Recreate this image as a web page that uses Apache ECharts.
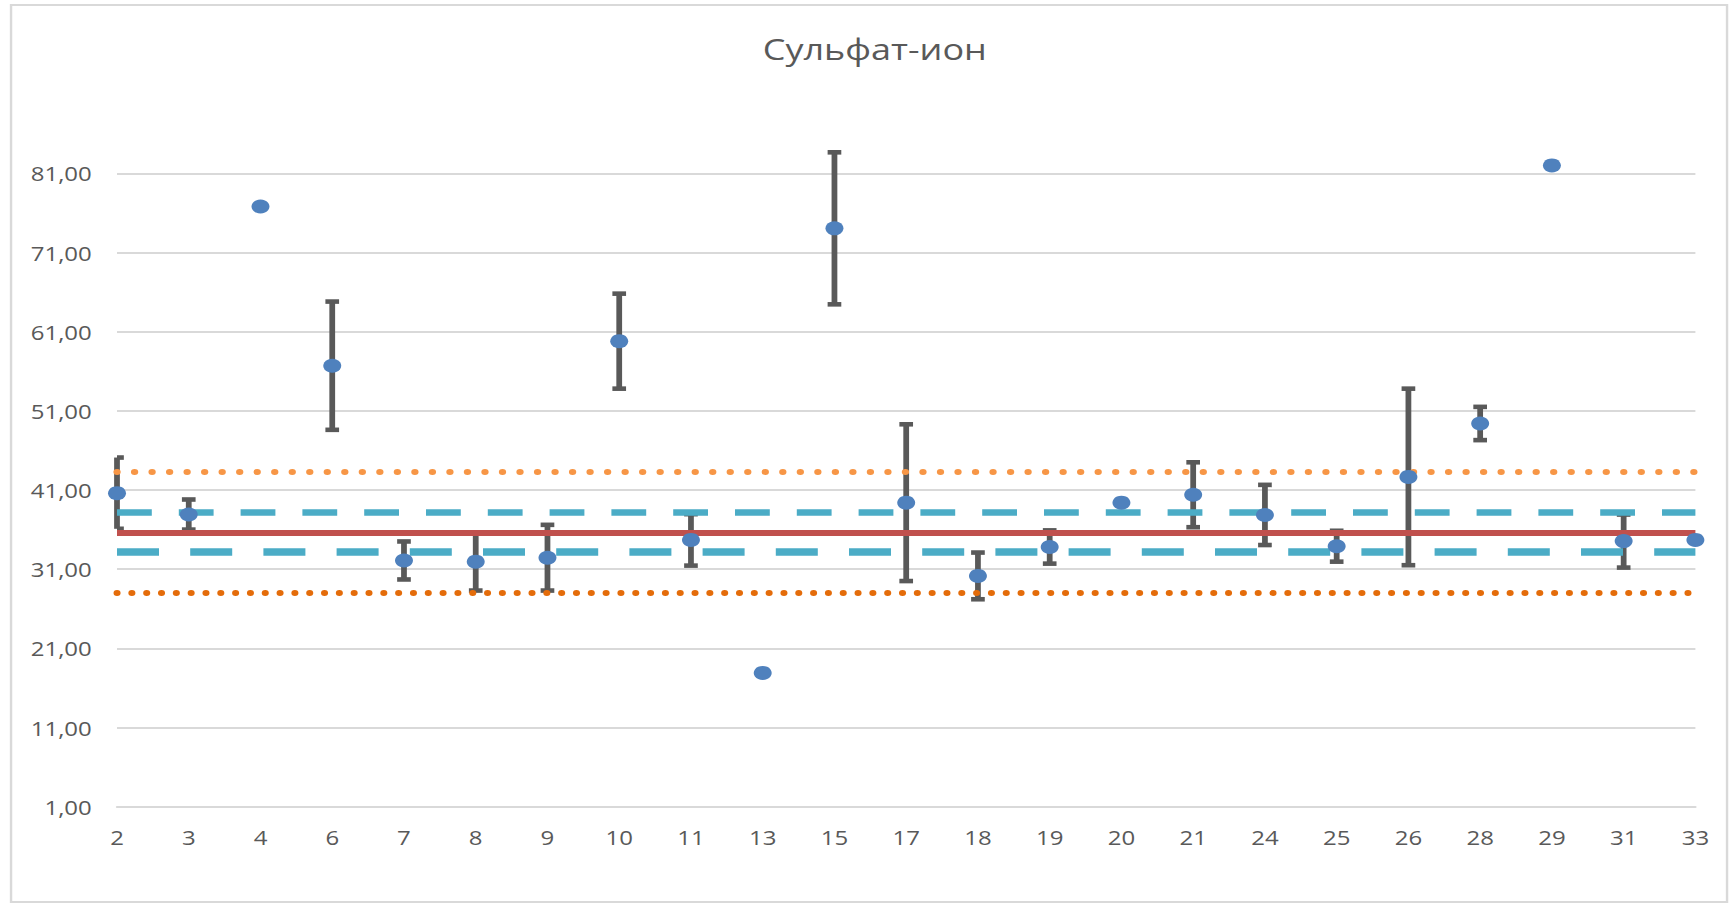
<!DOCTYPE html>
<html><head><meta charset="utf-8">
<script src="https://cdn.jsdelivr.net/npm/echarts@6/dist/echarts.min.js"></script>
<style>
html,body{margin:0;padding:0;background:#fff;overflow:hidden;}
#chart{width:1441.67px;height:906px;transform:scaleX(1.2);transform-origin:0 0;}
</style></head>
<body><div id="chart"></div>
<script>
// ---- data ----
const categories = ['2','3','4','6','7','8','9','10','11','13','15','17','18','19','20','21','24','25','26','28','29','31','33'];
const sulfateValues = [40.6, 37.9, 76.8, 56.7, 32.1, 31.95, 32.45, 59.8, 34.7, 17.9, 74.05, 39.4, 30.15, 33.8, 39.4, 40.4, 37.85, 33.9, 42.65, 49.4, 82.0, 34.55, 34.7];
const errorValues   = [4.5, 1.9, null, 8.1, 2.4, 3.65, 4.15, 6.0, 3.25, null, 9.6, 9.9, 2.95, 2.1, null, 4.1, 3.8, 1.95, 11.15, 2.1, null, 3.35, null];
const meanLevel = 35.6;
const innerUpperLevel = 38.15;
const innerLowerLevel = 33.15;
const outerUpperLevel = 43.3;
const outerLowerLevel = 28.0;
const yMin = 1, yMax = 81, yStep = 10;
const titleText = 'Сульфат-ион';

const errorData = [];
categories.forEach((c, i) => {
  if (errorValues[i] != null) errorData.push([i, sulfateValues[i], errorValues[i]]);
});

function renderErr(params, api) {
  const i = api.value(0), v = api.value(1), e = api.value(2);
  const top = api.coord([i, v + e]);
  const bot = api.coord([i, v - e]);
  const cs = params.coordSys;
  const x = top[0], hw = 5.7;
  const xl = Math.max(cs.x, x - hw), xr = Math.min(cs.x + cs.width, x + hw);
  const st = {stroke: '#595959', lineWidth: 4.8, fill: null};
  const cst = {stroke: '#595959', lineWidth: 4.6, fill: null};
  return {type: 'group', children: [
    {type: 'line', shape: {x1: x, y1: top[1], x2: x, y2: bot[1]}, style: st},
    {type: 'line', shape: {x1: xl, y1: top[1], x2: xr, y2: top[1]}, style: cst},
    {type: 'line', shape: {x1: xl, y1: bot[1], x2: xr, y2: bot[1]}, style: cst}
  ]};
}

function refLine(level, color, width, dash, cap) {
  return {
    type: 'line', data: [], z: 3, silent: true,
    markLine: {
      silent: true, animation: false, symbol: ['none', 'none'],
      label: {show: false}, emphasis: {disabled: true},
      lineStyle: {color: color, width: width, type: dash, cap: cap || 'butt', opacity: 1},
      data: [{yAxis: level}]
    }
  };
}

const chart = echarts.init(document.getElementById('chart'), null, {renderer: 'svg'});
const font = 'Open Sans';
chart.setOption({
  animation: false,
  backgroundColor: '#ffffff',
  title: {
    text: titleText, left: 724, top: 29, textAlign: 'center',
    textStyle: {fontFamily: font, fontSize: 30, fontWeight: 'normal', color: '#595959'}
  },
  graphic: [{
    type: 'rect', shape: {x: 9.2, y: 5, width: 1430, height: 897},
    style: {fill: 'none', stroke: '#D9D9D9', lineWidth: 2}, silent: true
  }],
  grid: {left: 97.5, right: 29.17, top: 173.3, bottom: 99.3, containLabel: false},
  xAxis: {
    type: 'category', data: categories, boundaryGap: false,
    axisTick: {show: false},
    axisLine: {lineStyle: {color: '#D9D9D9', width: 2}},
    axisLabel: {interval: 0, margin: 20, fontSize: 20, color: '#595959', fontFamily: font},
    splitLine: {show: false}
  },
  yAxis: {
    type: 'value', min: yMin, max: yMax, interval: yStep,
    axisLine: {show: false}, axisTick: {show: false},
    axisLabel: {margin: 21, fontSize: 20, color: '#595959', fontFamily: font,
      formatter: v => v.toFixed(2).replace('.', ',')},
    splitLine: {lineStyle: {color: '#D9D9D9', width: 2}}
  },
  series: [
    {type: 'custom', name: 'err', renderItem: renderErr, data: errorData, z: 2,
      encode: {x: 0, y: 1}, clip: false, silent: true},
    refLine(outerUpperLevel, '#F79646', 6, [0.1, 14.5], 'round'),
    refLine(outerLowerLevel, '#E46C0A', 5.8, [0.1, 12.25], 'round'),
    refLine(innerUpperLevel, '#4BACC6', 6.5, [29, 22.5]),
    refLine(innerLowerLevel, '#4BACC6', 7.5, [35, 26]),
    refLine(meanLevel, '#C0504D', 6, 'solid'),
    {type: 'scatter', name: 'Сульфат-ион', data: sulfateValues, symbol: 'circle', symbolSize: [15, 14],
      itemStyle: {color: '#4F81BD', opacity: 1}, z: 5, clip: false, silent: true}
  ]
});
</script>
</body></html>
